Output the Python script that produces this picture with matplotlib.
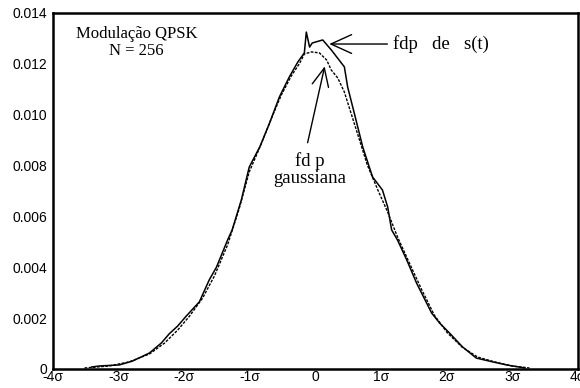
import numpy as np
import matplotlib
matplotlib.use("Agg")
import matplotlib.pyplot as plt

# fdp de s(t) (curva continua), x em unidades de sigma
x_st = [-3.41, -3.29, -2.99, -2.79, -2.53, -2.35, -2.23, -2.10, -1.97, -1.77,
        -1.62, -1.51, -1.34, -1.27, -1.13, -1.01, -0.85, -0.70, -0.55, -0.40,
        -0.27, -0.17, -0.14, -0.09, -0.05, 0.11, 0.24, 0.44, 0.49, 0.59,
        0.72, 0.82, 0.87, 1.02, 1.10, 1.16, 1.25, 1.39, 1.54, 1.77,
        1.89, 2.04, 2.24, 2.45, 2.70, 2.91, 3.19]
y_st = [0.00008, 0.00012, 0.00016, 0.00031, 0.00063, 0.00102, 0.00138, 0.00169, 0.00208, 0.00264,
        0.00350, 0.00400, 0.00507, 0.00547, 0.00665, 0.00794, 0.00873, 0.00967, 0.01070, 0.01148,
        0.01207, 0.01243, 0.01325, 0.01266, 0.01282, 0.01294, 0.01255, 0.01188, 0.01109, 0.01007,
        0.00873, 0.00794, 0.00755, 0.00704, 0.00637, 0.00547, 0.00507, 0.00429, 0.00338, 0.00220,
        0.00181, 0.00142, 0.00087, 0.00043, 0.00028, 0.00016, 0.00004]

# fdp gaussiana (curva tracejada)
x_g = [-3.52, -3.14, -2.84, -2.53, -2.30, -2.10, -1.92, -1.72, -1.54, -1.34,
       -1.16, -1.01, -0.82, -0.67, -0.52, -0.37, -0.24, -0.17, -0.06, 0.06,
       0.17, 0.24, 0.34, 0.44, 0.55, 0.67, 0.79, 0.95, 1.10, 1.25,
       1.43, 1.62, 1.81, 2.01, 2.23, 2.47, 2.73, 2.99, 3.26]
y_g = [0.00004, 0.00012, 0.00028, 0.00059, 0.00102, 0.00153, 0.00208, 0.00279, 0.00366, 0.00488,
       0.00633, 0.00775, 0.00889, 0.00987, 0.01078, 0.01152, 0.01203, 0.01239, 0.01247, 0.01243,
       0.01215, 0.01176, 0.01144, 0.01089, 0.00999, 0.00901, 0.00802, 0.00704, 0.00617, 0.00519,
       0.00417, 0.00311, 0.00212, 0.00142, 0.00087, 0.00047, 0.00028, 0.00012, 0.00004]

xticks = [-4, -3, -2, -1, 0, 1, 2, 3, 4]
xlabels = ["-4σ", "-3σ", "-2σ", "-1σ", "0", "1σ", "2σ", "3σ", "4σ"]
yticks = [0, 0.002, 0.004, 0.006, 0.008, 0.010, 0.012, 0.014]
ylabels = ["0", "0.002", "0.004", "0.006", "0.008", "0.010", "0.012", "0.014"]

plt.rcParams["font.family"] = ["Liberation Sans", "DejaVu Sans"]

fig = plt.figure(figsize=(5.8, 3.88), dpi=100)
ax = fig.add_axes([53 / 580, 19 / 388, 525 / 580, 356 / 388])

ax.plot(x_g, y_g, color="black", lw=1.0, ls=(0, (2, 1)))
ax.plot(x_st, y_st, color="black", lw=1.1)

ax.set_xlim(-4, 4)
ax.set_ylim(0, 0.014)
ax.set_xticks(xticks)
ax.set_xticklabels(xlabels)
ax.set_yticks(yticks)
ax.set_yticklabels(ylabels)
ax.tick_params(length=0, labelsize=10, colors="black")
ax.tick_params(axis="x", pad=1)
ax.tick_params(axis="y", pad=4)
for s in ax.spines.values():
    s.set_linewidth(1.8)

serif = ["Liberation Serif", "DejaVu Serif"]
ax.text(-2.73, 0.01284, "Modulação QPSK\nN = 256", ha="center", va="center",
        fontsize=12, family=serif, linespacing=1.05)

ax.annotate("fdp   de   s(t)", xy=(0.21, 0.01278), xytext=(1.18, 0.01278),
            ha="left", va="center", fontsize=13.5, family=serif,
            arrowprops=dict(arrowstyle="->,head_length=1.1,head_width=0.5",
                            color="black", lw=1.0, shrinkA=2, shrinkB=0))

ax.annotate("", xy=(0.14, 0.0119), xytext=(-0.12, 0.0089),
            arrowprops=dict(arrowstyle="->,head_length=1.3,head_width=0.6",
                            color="black", lw=1.0, shrinkA=0, shrinkB=0),
            fontsize=10)
ax.text(-0.08, 0.00783, "fd p\ngaussiana", ha="center", va="center",
        fontsize=13.5, family=serif, linespacing=1.0)

fig.savefig("out.png", dpi=100)
